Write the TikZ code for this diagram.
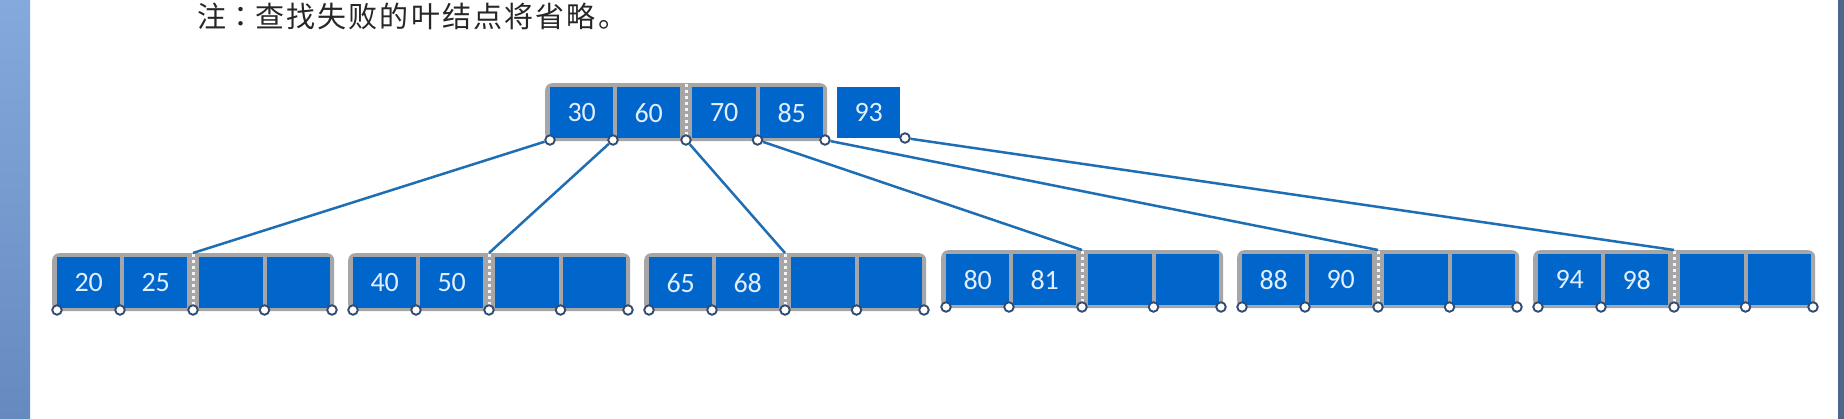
\documentclass[tikz,border=0pt]{standalone}
\usepackage{fontspec}
\setmainfont{Carlito}
\newfontfamily\cjk[LetterSpace=7.5]{Noto Sans CJK SC}
\newfontfamily\cjktc[LetterSpace=7.5]{Noto Sans CJK TC}
\definecolor{cellblue}{RGB}{0,102,204}
\definecolor{framegray}{RGB}{166,166,166}
\definecolor{pinblue}{RGB}{50,75,115}
\definecolor{edgeblue}{RGB}{30,110,180}
\definecolor{celltext}{RGB}{225,238,252}
\definecolor{stripetop}{RGB}{132,170,220}
\definecolor{stripebot}{RGB}{100,138,192}
\definecolor{stripedark}{RGB}{78,102,140}
\definecolor{notetext}{RGB}{38,38,38}
\tikzset{
  cellbox/.style={fill=cellblue, inner sep=0pt, minimum width=63pt, minimum height=51pt,
    anchor=north west, text=celltext, font=\fontsize{28}{28}\selectfont},
  framebox/.style={fill=framegray, rounded corners=7pt, inner sep=0pt, anchor=north west,
    minimum width=282pt},
  pin/.style={circle, draw=pinblue, fill=white, line width=1.9pt, minimum size=9.5pt, inner sep=0pt},
  edge/.style={draw=edgeblue, line width=2.5pt},
  sepdots/.style={draw=white!92!gray, line width=3pt, dash pattern=on 3pt off 3pt},
}
% #1 name, #2 x0, #3 top, #4 frame height, #5-#8 keys
\newcommand\btnode[8]{%
  \node[framebox, minimum height=#4pt] (#1) at (#2,#3) {};
  \node[cellbox] (#1a) at (#2+5,#3+4) {#5};
  \node[cellbox] (#1b) at (#2+72,#3+4) {#6};
  \node[cellbox, minimum width=64pt] (#1c) at (#2+147,#3+4) {#7};
  \node[cellbox] (#1d) at (#2+215,#3+4) {#8};
  \draw[sepdots] (#2+141,#3+1) -- (#2+141,#3+#4-2);
  \coordinate (#1s) at (#2+141,#3);
  \node[pin] (#1p1) at (#2+5,#3+#4-1) {};
  \node[pin] (#1p2) at (#2+68,#3+#4-1) {};
  \node[pin] (#1p3) at (#2+141,#3+#4-1) {};
  \node[pin] (#1p4) at (#2+212.5,#3+#4-1) {};
  \node[pin] (#1p5) at (#2+280,#3+#4-1) {};
}
\begin{document}
\begin{tikzpicture}[x=1pt,y=-1pt]
  \useasboundingbox (0,0) rectangle (1844,419);
  \fill[white] (0,0) rectangle (1844,419);
  \shade[top color=stripetop, bottom color=stripebot] (0,0) rectangle (30,419);
  \fill[stripedark] (1838,0) rectangle (1844,419);
  \node[anchor=west, inner sep=0pt, text=notetext, font=\cjk\fontsize{29}{29}\selectfont] (note) at (197,16) {注{\cjktc ：}查找失败的叶结点将省略。};
  % root
  \btnode{R}{545}{83}{58}{30}{60}{70}{85}
  \node[cellbox] (R93) at (837,87) {93};
  \node[pin] (R93p) at (905,138) {};
  % leaves
  \btnode{La}{52}{253}{58}{20}{25}{}{}
  \btnode{Lb}{348}{253}{58}{40}{50}{}{}
  \btnode{Lc}{644}{253}{58}{65}{68}{}{}
  \btnode{Ld}{941}{250}{58}{80}{81}{}{}
  \btnode{Le}{1237}{250}{58}{88}{90}{}{}
  \btnode{Lf}{1533}{250}{58}{94}{98}{}{}
  % edges
  \draw[edge] (Rp1) -- (Las);
  \draw[edge] (Rp2) -- (Lbs);
  \draw[edge] (Rp3) -- (Lcs);
  \draw[edge] (Rp4) -- (Lds);
  \draw[edge] (Rp5) -- (Les);
  \draw[edge] (R93p) -- (Lfs);
\end{tikzpicture}
\end{document}
